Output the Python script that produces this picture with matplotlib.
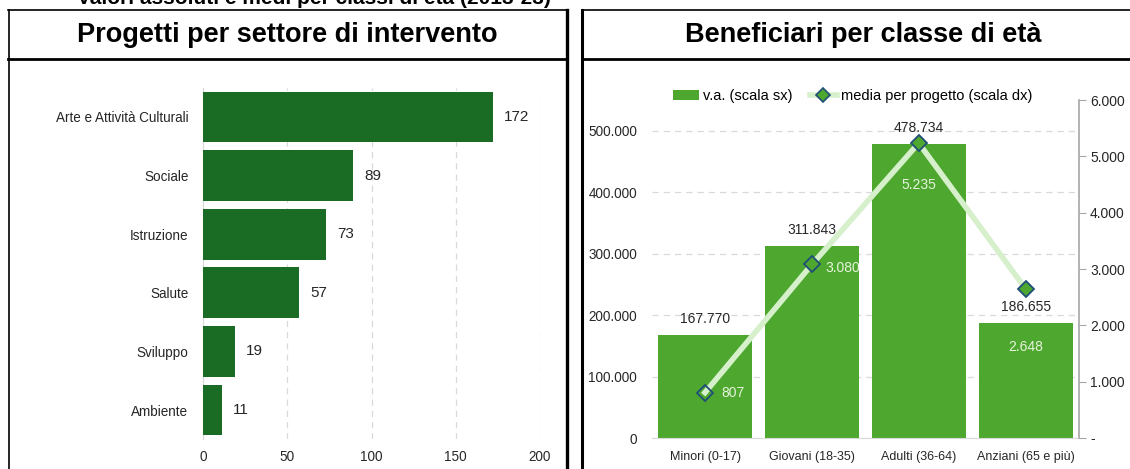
import matplotlib
matplotlib.use("Agg")
import matplotlib.pyplot as plt
from matplotlib.lines import Line2D
from matplotlib.patches import Patch
from matplotlib.ticker import FuncFormatter, MultipleLocator

plt.rcParams['font.family'] = ['Liberation Sans', 'DejaVu Sans']

# ---- data ----
sectors = ["Arte e Attività Culturali", "Sociale", "Istruzione", "Salute", "Sviluppo", "Ambiente"]
projects = [172, 89, 73, 57, 19, 11]

age_classes = ["Minori (0-17)", "Giovani (18-35)", "Adulti (36-64)", "Anziani (65 e più)"]
beneficiaries = [167770, 311843, 478734, 186655]
avg_per_project = [807, 3080, 5235, 2648]

suptitle = "Valori assoluti e medi per classi di età (2013-23)"
title_left = "Progetti per settore di intervento"
title_right = "Beneficiari per classe di età"
legend_labels = ["v.a. (scala sx)", "media per progetto (scala dx)"]

W, H = 1130, 469
fig = plt.figure(figsize=(W / 100, H / 100), dpi=100)

def fx(px):
    return px / W

def fy(py):
    return 1 - py / H

def it(v):
    return f"{v:,.0f}".replace(",", ".")

# ---- panel frames ----
def hline(x0, x1, y, lw):
    fig.add_artist(Line2D([fx(x0), fx(x1)], [fy(y), fy(y)], color='black', lw=lw, transform=fig.transFigure))

def vline(x, y0, y1, lw):
    fig.add_artist(Line2D([fx(x), fx(x)], [fy(y0), fy(y1)], color='black', lw=lw, transform=fig.transFigure))

hline(8, 567, 10.5, 1.2)
hline(8, 567, 59, 2.0)
vline(8.5, 10, 475, 1.2)
vline(566.5, 10, 475, 2.4)
hline(582, 1135, 10.5, 1.2)
hline(582, 1135, 59, 2.0)
vline(582, 10, 475, 2.2)

fig.text(fx(314), fy(4.5), suptitle, ha='center', va='baseline', fontsize=15, fontweight='bold')
fig.text(fx(287), fy(35), title_left, ha='center', va='center', fontsize=19.5, fontweight='bold')
fig.text(fx(863), fy(35), title_right, ha='center', va='center', fontsize=19.5, fontweight='bold')

# ---- left chart ----
axL = fig.add_axes([fx(203), fy(439.3), fx(540) - fx(203), (439.3 - 87.7) / H])
ypos = list(range(len(sectors)))
axL.barh(ypos, projects, height=0.87, color='#1a6b24', zorder=3)
axL.set_xlim(0, 200)
axL.set_ylim(len(sectors) - 0.5, -0.5)
axL.set_yticks(ypos)
axL.set_yticklabels(sectors, fontsize=9.75, color='#262626')
axL.xaxis.set_major_locator(MultipleLocator(50))
axL.tick_params(axis='both', length=0, labelsize=9.75, colors='#262626')
axL.tick_params(axis='y', pad=10.5)
axL.tick_params(axis='x', pad=8)
axL.grid(axis='x', color='#d9d9d9', linestyle=(0, (5, 4)), lw=0.9, zorder=0)
for s in ['top', 'right', 'bottom']:
    axL.spines[s].set_visible(False)
axL.spines['left'].set_color('#d9d9d9')
for i, v in enumerate(projects):
    axL.annotate(str(v), (v, i), xytext=(11, 0), textcoords='offset pixels',
                 ha='left', va='center', fontsize=11, color='#262626')

# ---- right chart ----
axR = fig.add_axes([fx(651.6), fy(438), fx(1079) - fx(651.6), 338 / H])
xpos = list(range(len(age_classes)))
axR.bar(xpos, beneficiaries, width=0.88, color='#4ea72e', zorder=2)
axR.set_xlim(-0.5, len(age_classes) - 0.5)
axR.set_ylim(0, 550000)
axR.set_yticks(range(0, 500001, 100000))
axR.yaxis.set_major_formatter(FuncFormatter(lambda v, p: it(v)))
axR.set_xticks(xpos)
axR.set_xticklabels(age_classes, fontsize=9, color='#262626')
axR.tick_params(axis='both', length=0, colors='#262626')
axR.tick_params(axis='y', labelsize=9.75, pad=10.5)
axR.tick_params(axis='x', pad=9)
axR.grid(axis='y', color='#d9d9d9', linestyle=(0, (5, 4)), lw=0.9, zorder=0)
for s in ['top', 'right', 'left']:
    axR.spines[s].set_visible(False)
axR.spines['bottom'].set_color('#d9d9d9')
for i, v in enumerate(beneficiaries):
    axR.annotate(it(v), (i, v), xytext=(0, 16), textcoords='offset pixels',
                 ha='center', va='center', fontsize=10, color='#262626', zorder=6)

ax2 = axR.twinx()
ax2.set_ylim(0, 6000)
ax2.set_yticks(range(0, 6001, 1000))
ax2.yaxis.set_major_formatter(FuncFormatter(lambda v, p: '-' if v == 0 else it(v)))
ax2.tick_params(axis='y', length=5, color='#a6a6a6', labelsize=10, labelcolor='#262626', pad=3)
for s in ['top', 'left', 'bottom']:
    ax2.spines[s].set_visible(False)
ax2.spines['right'].set_color('#a6a6a6')
ax2.spines['right'].set_linewidth(1.2)
ax2.plot(xpos, avg_per_project, color='#d6f0cc', lw=4, zorder=3)
face = ['none', '#4ea72e', '#4ea72e', '#4ea72e']
for i, v in enumerate(avg_per_project):
    ax2.plot([i], [v], marker='D', markersize=8.5, markerfacecolor=face[i],
             markeredgecolor='#1f4e79', markeredgewidth=1.3, zorder=4, linestyle='none')
offs = [(28, 0), (31, -4), (0, -42), (0, -58)]
for i, v in enumerate(avg_per_project):
    ax2.annotate(it(v), (i, v), xytext=offs[i], textcoords='offset pixels',
                 ha='center', va='center', fontsize=10, color='#e6f4de', zorder=6)

handles = [Patch(facecolor='#4ea72e', edgecolor='none'),
           Line2D([0], [0], color='#d6f0cc', lw=4, marker='D', markersize=7,
                  markerfacecolor='#4ea72e', markeredgecolor='#1f4e79', markeredgewidth=1.2)]
axR.legend(handles, legend_labels, loc='center', bbox_to_anchor=(0.47, 1.012), ncol=2,
           frameon=False, fontsize=10.5, handlelength=1.8, columnspacing=1.2, handletextpad=0.3)

fig.savefig("out.png", dpi=100)
